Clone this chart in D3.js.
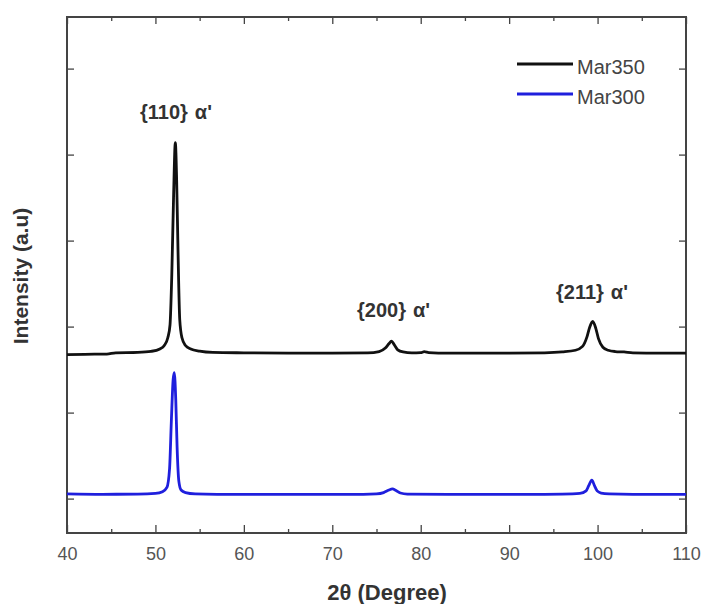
<!DOCTYPE html>
<html><head><meta charset="utf-8">
<script src="https://cdn.jsdelivr.net/npm/d3@7"></script>
<style>body{margin:0;background:#fff}svg{display:block}text{font-family:"Liberation Sans",Arial,sans-serif}</style>
</head><body>
<svg id="c" width="704" height="604"></svg>
<script>
// ---- data ----
const mar350X = [40, 42, 44.5, 45.5, 48, 49.5, 50.5, 51.0, 51.4, 51.65, 51.85, 52.05, 52.25, 52.4, 52.55, 52.75, 53.0, 53.4, 54.0, 55.0, 56.5, 60, 65, 70, 74, 75.3, 76.0, 76.4, 76.7, 77.0, 77.4, 78.0, 79.0, 80.0, 80.4, 80.9, 82, 86, 90, 94, 96, 97.5, 98.3, 98.8, 99.1, 99.45, 99.8, 100.1, 100.6, 101.2, 102, 103, 104, 107, 110];
const mar350Y = [1675, 1678, 1680, 1695, 1700, 1712, 1740, 1780, 1870, 2020, 2600, 3500, 4140, 3700, 2900, 2080, 1870, 1780, 1740, 1715, 1700, 1695, 1692, 1692, 1695, 1710, 1750, 1800, 1830, 1790, 1730, 1705, 1695, 1697, 1708, 1697, 1692, 1692, 1692, 1695, 1705, 1725, 1770, 1880, 1990, 2060, 1980, 1860, 1760, 1725, 1710, 1705, 1695, 1692, 1692];
const mar300X = [40, 44, 48, 50, 50.8, 51.3, 51.6, 51.8, 52.0, 52.13, 52.3, 52.45, 52.65, 52.9, 53.4, 54.5, 57, 65, 72, 75, 75.8, 76.4, 76.8, 77.2, 77.7, 78.5, 85, 92, 96, 98, 98.7, 99.0, 99.35, 99.65, 99.95, 100.4, 101.3, 104, 110];
const mar300Y = [55, 50, 52, 60, 80, 130, 350, 900, 1380, 1465, 1150, 600, 200, 100, 70, 55, 50, 48, 48, 55, 70, 100, 112, 95, 65, 52, 48, 48, 52, 60, 90, 150, 215, 150, 90, 65, 55, 50, 50];
const seriesNames = ["Mar350", "Mar300"];
const seriesColors = ["#111111", "#1f1fdd"];
const xMajorTicks = [40, 50, 60, 70, 80, 90, 100, 110];
const xMinorTicks = [45, 55, 65, 75, 85, 95, 105];
const yTicks = [0, 1000, 2000, 3000, 4000, 5000];
const peakLabels = ["{110}", "{200}", "{211}"];
const peakPos = [52.25, 76.7, 99.45];
const xTitle = "2θ (Degree)";
const yTitle = "Intensity (a.u)";

// ---- layout ----
const L = 67, R = 686, T = 17, B = 533;
const svg = d3.select("#c");
const x = d3.scaleLinear().domain([40, 110]).range([L, R]);
const y = d3.scaleLinear().domain([-400, 5600]).range([B, T]);

const axisColor = "#444";
function styleAxis(g){ g.select(".domain").remove(); g.selectAll("line").attr("stroke", axisColor).attr("stroke-width",1.3); g.selectAll("text").attr("fill","#555").style("font-size","18px"); }

svg.append("g").attr("transform",`translate(0,${B})`)
  .call(d3.axisBottom(x).tickValues(xMajorTicks).tickSize(-8).tickPadding(14).tickFormat(d3.format("d"))).call(styleAxis);
svg.append("g").attr("transform",`translate(0,${B})`)
  .call(d3.axisBottom(x).tickValues(xMinorTicks).tickSize(-4).tickFormat("")).call(styleAxis);
svg.append("g").attr("transform",`translate(0,${T})`)
  .call(d3.axisTop(x).tickValues(xMajorTicks).tickSize(-7).tickFormat("")).call(styleAxis);
svg.append("g").attr("transform",`translate(0,${T})`)
  .call(d3.axisTop(x).tickValues(xMinorTicks).tickSize(-4).tickFormat("")).call(styleAxis);
svg.append("g").attr("transform",`translate(${L},0)`)
  .call(d3.axisLeft(y).tickValues(yTicks).tickSize(-7).tickFormat("")).call(styleAxis);
svg.append("g").attr("transform",`translate(${R},0)`)
  .call(d3.axisRight(y).tickValues(yTicks).tickSize(-7).tickFormat("")).call(styleAxis);

svg.append("rect").attr("x",L).attr("y",T).attr("width",R-L).attr("height",B-T)
  .attr("fill","none").attr("stroke",axisColor).attr("stroke-width",2);

const line = d3.line().x(d=>x(d[0])).y(d=>y(d[1])).curve(d3.curveMonotoneX);
const data = [d3.zip(mar350X, mar350Y), d3.zip(mar300X, mar300Y)];
data.forEach((d,i)=>{
  svg.append("path").datum(d).attr("d", line).attr("fill","none")
    .attr("stroke", seriesColors[i]).attr("stroke-width",2.8).attr("stroke-linejoin","round");
});

// peak labels
const labelBase = [119, 317, 299];
const labelStart = [140, 357, 556];
peakLabels.forEach((t,i)=>{
  const tx = svg.append("text").attr("x", labelStart[i]).attr("y", labelBase[i])
    .attr("fill","#333").style("font-size","20px").style("font-weight","bold");
  tx.append("tspan").text(t);
  tx.append("tspan").attr("dx",7).text("α'");
});

// legend
seriesNames.forEach((n,i)=>{
  const ly = 64 + i*30;
  svg.append("line").attr("x1",517).attr("x2",573).attr("y1",ly).attr("y2",ly)
    .attr("stroke",seriesColors[i]).attr("stroke-width",2.8);
  svg.append("text").attr("x",577).attr("y",ly+10).text(n)
    .attr("fill","#444").style("font-size","20px");
});

// axis titles
svg.append("text").attr("x", 387).attr("y", 600).attr("text-anchor","middle")
  .attr("fill","#333").style("font-size","22px").style("font-weight","bold").text(xTitle);
svg.append("text").attr("transform",`translate(28,276) rotate(-90)`).attr("text-anchor","middle")
  .attr("fill","#333").style("font-size","21px").style("font-weight","bold").text(yTitle);
</script>
</body></html>
